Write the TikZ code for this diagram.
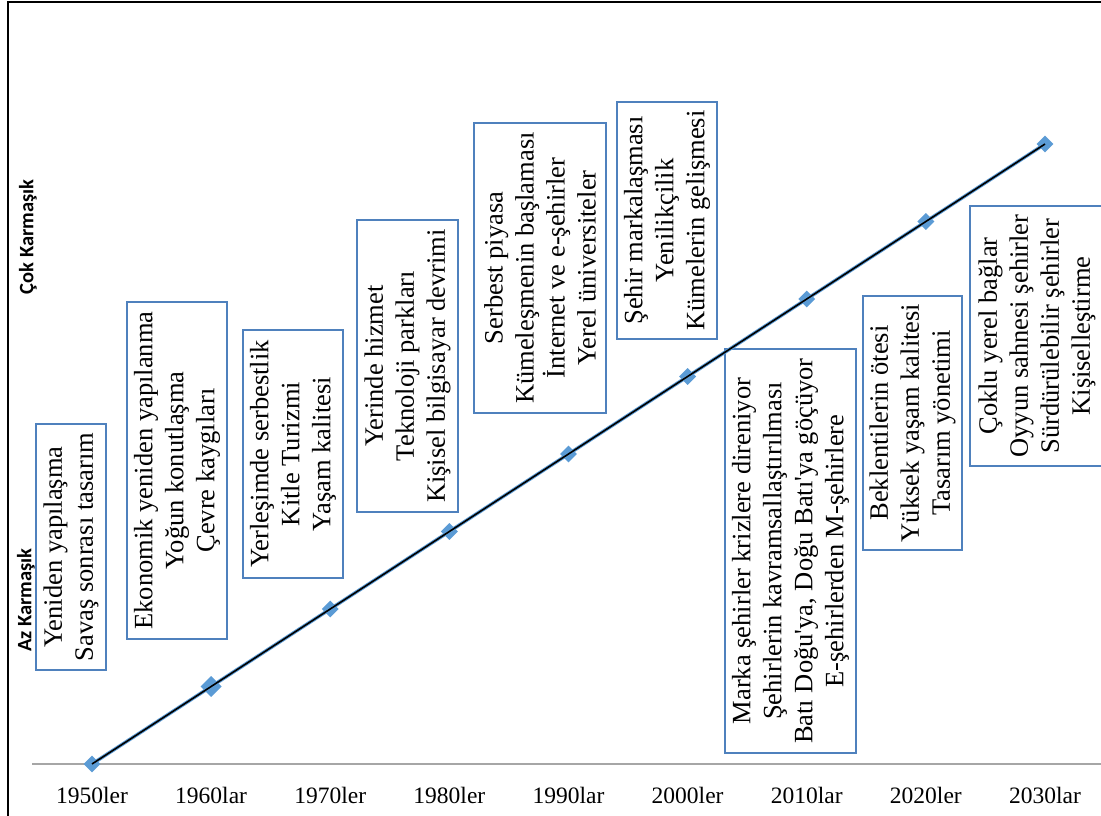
\documentclass[tikz,border=0pt]{standalone}
\usepackage{fontspec}
\setmainfont{Liberation Serif}[Ligatures=TeXOff]
\newfontfamily\calib{Carlito}
\usetikzlibrary{shapes.geometric}
\definecolor{boxblue}{RGB}{79,129,189}
\definecolor{mkblue}{RGB}{91,155,213}
\definecolor{axgray}{RGB}{166,166,166}
\begin{document}
\begin{tikzpicture}[x=1pt,y=-1pt,
  tbox/.style={draw=boxblue, line width=1.1pt, rotate=90, align=center, inner sep=0pt, font=\fontsize{26.5}{31}\selectfont},
  mk/.style={diamond, fill=mkblue, minimum size=17pt, inner sep=0pt},
  yr/.style={anchor=base, font=\fontsize{23.5}{28}\selectfont},
  cx/.style={rotate=90, font=\calib\bfseries\fontsize{20.5}{25}\selectfont}]
\useasboundingbox (0,0) rectangle (1101,816);
\fill[white] (0,0) rectangle (1101,816);
\draw[line width=1.3pt] (8,830) -- (8,2) -- (1110,2);
\draw[axgray, line width=1.5pt] (32,764) -- (1110,764);
% text boxes
\node[tbox, minimum width=246pt, minimum height=70pt] (b1) at (71,547) {Yeniden yapılaşma\\Savaş sonrası tasarım};
\node[tbox, minimum width=337pt, minimum height=100pt] (b2) at (177,470.5) {Ekonomik yeniden yapılanma\\Yoğun konutlaşma\\Çevre kaygıları};
\node[tbox, minimum width=248pt, minimum height=100pt] (b3) at (293,454) {Yerleşimde serbestlik\\Kitle Turizmi\\Yaşam kalitesi};
\node[tbox, minimum width=292pt, minimum height=101pt] (b4) at (407.5,366) {Yerinde hizmet\\Teknoloji parkları\\Kişisel bilgisayar devrimi};
\node[tbox, minimum width=290pt, minimum height=132pt] (b5) at (540,268) {Serbest piyasa\\Kümeleşmenin başlaması\\İnternet ve e-şehirler\\Yerel üniversiteler};
\node[tbox, minimum width=237pt, minimum height=100pt] (b6) at (667,220.5) {Şehir markalaşması\\Yenilikçilik\\Kümelerin gelişmesi};
\node[tbox, minimum width=404pt, minimum height=131pt] (b7) at (790.5,551) {Marka şehirler krizlere direniyor\\Şehirlerin kavramsallaştırılması\\Batı Doğu'ya, Doğu Batı'ya göçüyor\\E-şehirlerden M-şehirlere};
\node[tbox, minimum width=254pt, minimum height=99pt] (b8) at (912.5,423) {Beklentilerin ötesi\\Yüksek yaşam kalitesi\\Tasarım yönetimi};
\node[tbox, minimum width=260pt, minimum height=134pt] (b9) at (1037,336) {Çoklu yerel bağlar\\Oyyun sahnesi şehirler\\Sürdürülebilir şehirler\\Kişiselleştirme};
% markers
\foreach \i in {0,...,8} {
  \node[mk] (m\i) at ({92+119.125*\i},{764-77.5*\i}) {};
}
\node[mk, minimum size=21pt] (m1b) at (m1) {};
\draw[mkblue, line width=3.5pt] (m0.center) -- (m8.center);
\draw[black, line width=1.6pt] (m0.center) -- (m8.center);
% year labels
\foreach \i/\t in {0/1950ler,1/1960lar,2/1970ler,3/1980ler,4/1990lar,5/2000ler,6/2010lar,7/2020ler,8/2030lar} {
  \node[yr] (y\i) at ({92+119.125*\i},803) {\t};
}
\node[cx] (cok) at (28,237) {Çok Karmaşık};
\node[cx] (az) at (26,600) {Az Karmaşık};
\end{tikzpicture}
\end{document}
